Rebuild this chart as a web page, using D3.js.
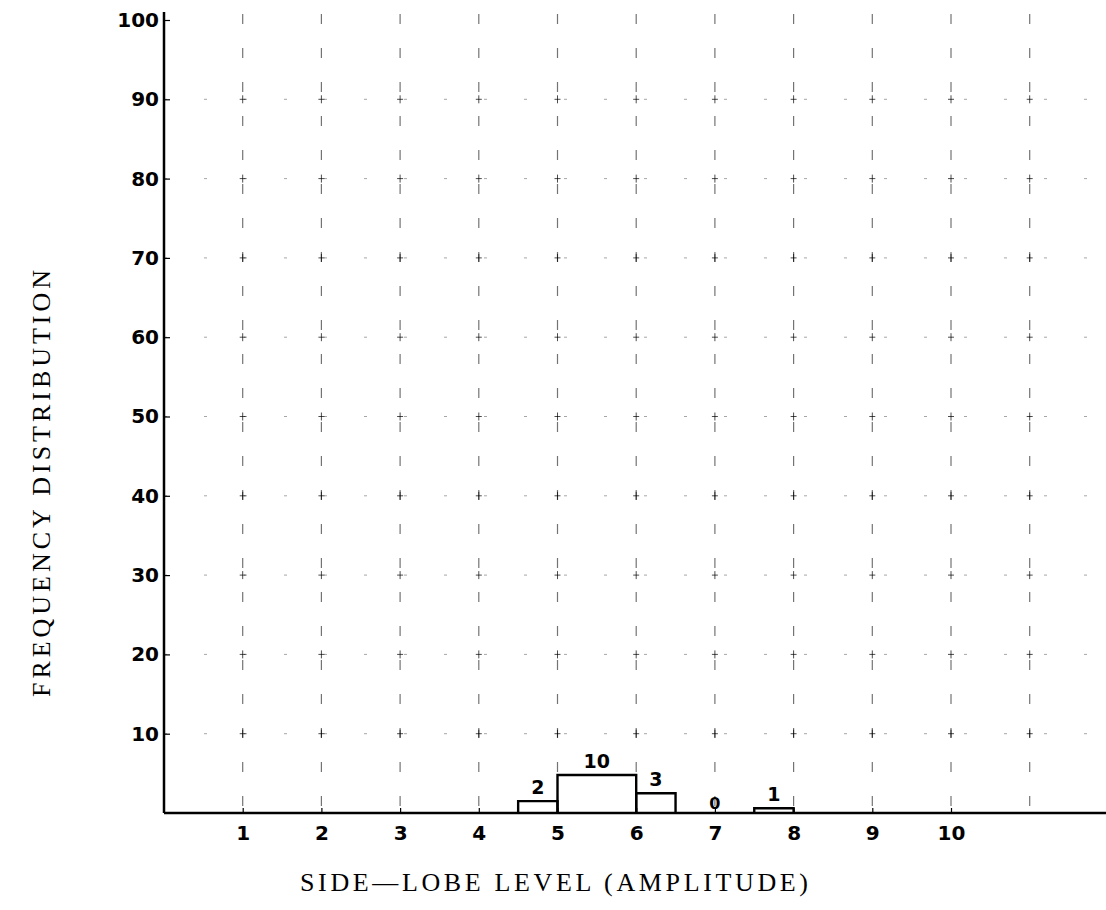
<!DOCTYPE html>
<html>
<head>
<meta charset="utf-8">
<script src="https://cdn.jsdelivr.net/npm/d3@7"></script>
<style>
  html, body { margin: 0; padding: 0; background: #fff; }
  svg { display: block; }
</style>
</head>
<body>
<svg id="chart" width="1106" height="910"></svg>
<script>
// ---- data ----
const binStarts = [4.5, 5, 6, 7.5];
const binEnds   = [5, 6, 6.5, 8];
const binHeights = [1.5, 4.8, 2.5, 0.6];
const binCounts = ["2", "10", "3", "1"];
const zeroLabelX = 7;          // bin with count 0
const zeroLabel = "0";
const xTickValues = [1, 2, 3, 4, 5, 6, 7, 8, 9, 10];
const xGridValues = [1, 2, 3, 4, 5, 6, 7, 8, 9, 10, 11];
const yTickValues = [10, 20, 30, 40, 50, 60, 70, 80, 90, 100];
const xTitle = "SIDE\u2014LOBE LEVEL (AMPLITUDE)";
const yTitle = "FREQUENCY DISTRIBUTION";

// ---- layout ----
const svg = d3.select("#chart");
const mLeft = 164, mBottom = 813, mTop = 20, mRight = 1106;
const x = d3.scaleLinear().domain([0, 1]).range([mLeft, mLeft + 78.7]);
const y = d3.scaleLinear().domain([0, 100]).range([mBottom, mTop]);

// grid: vertical dashed lines
const grid = svg.append("g").attr("stroke", "#000").attr("fill", "none");
grid.selectAll("line.vg").data(xGridValues).join("line")
  .attr("class", "vg")
  .attr("x1", d => x(d)).attr("x2", d => x(d))
  .attr("y1", y(100) - 6).attr("y2", mBottom)
  .attr("stroke-width", 1.2)
  .attr("stroke-opacity", 0.55)
  .attr("stroke-dasharray", "10,24");
// horizontal sparse dotted lines
grid.selectAll("line.hg").data(yTickValues.filter(d => d < 100)).join("line")
  .attr("class", "hg")
  .attr("x1", mLeft).attr("x2", mRight)
  .attr("y1", d => y(d)).attr("y2", d => y(d))
  .attr("stroke-width", 1)
  .attr("stroke-opacity", 0.35)
  .attr("stroke-dasharray", "3,37");
// crosses at intersections
const crosses = [];
xGridValues.forEach(a => yTickValues.filter(d => d < 100).forEach(b => crosses.push([a, b])));
grid.selectAll("path.cr").data(crosses).join("path")
  .attr("class", "cr")
  .attr("d", d => `M${x(d[0]) - 3},${y(d[1])}h6M${x(d[0])},${y(d[1]) - 4}v8`)
  .attr("stroke-width", 1)
  .attr("stroke-opacity", 0.7);

// axes
const yAxis = d3.axisLeft(y).tickValues(yTickValues).tickSize(-6).tickFormat(d3.format("d")).tickPadding(10);
const ya = svg.append("g").attr("transform", `translate(${mLeft},0)`).call(yAxis);
ya.select(".domain").attr("stroke", "#000").attr("stroke-width", 2.5)
  .attr("d", `M0,${y(100) - 8}V${mBottom}`);
ya.selectAll(".tick line").attr("stroke", "#000").attr("stroke-width", 1.2);
ya.selectAll(".tick text")
  .attr("font-family", "'DejaVu Sans', sans-serif")
  .attr("font-size", 20).attr("font-weight", "bold").attr("fill", "#000")
  .attr("dx", 5);

const xAxis = d3.axisBottom(x).tickValues(xTickValues).tickSize(-5).tickFormat(d3.format("d")).tickPadding(13);
const xa = svg.append("g").attr("transform", `translate(0,${mBottom})`).call(xAxis);
xa.select(".domain").attr("stroke", "#000").attr("stroke-width", 2.5)
  .attr("d", `M${mLeft},0H${mRight}`);
xa.selectAll(".tick line").attr("stroke", "#000").attr("stroke-width", 1.2);
xa.selectAll(".tick text")
  .attr("font-family", "'DejaVu Sans', sans-serif")
  .attr("font-size", 20).attr("font-weight", "bold").attr("fill", "#000");

// histogram bars (open-bottom outlines)
const bins = binStarts.map((s, i) => ({ s, e: binEnds[i], h: binHeights[i], c: binCounts[i] }));
svg.append("g").selectAll("path").data(bins).join("path")
  .attr("d", d => `M${x(d.s)},${y(0)}V${y(d.h)}H${x(d.e)}V${y(0)}`)
  .attr("fill", "none").attr("stroke", "#000").attr("stroke-width", 2.4);

// count labels
svg.append("g").selectAll("text").data(bins).join("text")
  .attr("x", d => (x(d.s) + x(d.e)) / 2)
  .attr("y", d => y(d.h) - 7)
  .attr("text-anchor", "middle")
  .attr("font-family", "'DejaVu Sans', sans-serif")
  .attr("font-size", 19).attr("font-weight", "bold")
  .text(d => d.c);
svg.append("text")
  .attr("x", x(zeroLabelX)).attr("y", y(0) - 4)
  .attr("text-anchor", "middle")
  .attr("font-family", "'DejaVu Sans', sans-serif")
  .attr("font-size", 16).attr("font-weight", "bold")
  .text(zeroLabel);

// axis titles
svg.append("text")
  .attr("x", 300).attr("y", 891)
  .attr("font-family", "'Liberation Serif', 'DejaVu Serif', serif")
  .attr("font-size", 26)
  .attr("textLength", 508)
  .attr("lengthAdjust", "spacing")
  .attr("fill", "#000")
  .text(xTitle);
svg.append("text")
  .attr("transform", "translate(50,697) rotate(-90)")
  .attr("font-family", "'Liberation Serif', 'DejaVu Serif', serif")
  .attr("font-size", 26)
  .attr("textLength", 427)
  .attr("lengthAdjust", "spacing")
  .attr("fill", "#000")
  .text(yTitle);
</script>
</body>
</html>
